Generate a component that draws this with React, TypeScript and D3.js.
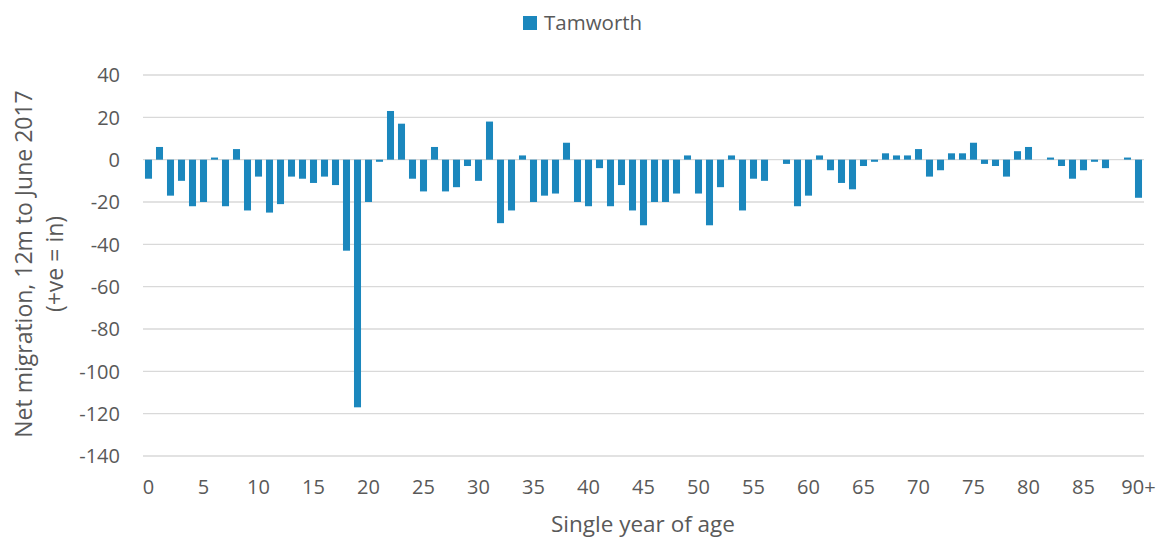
import React from 'react';
import * as d3 from 'd3';

// Tamworth net migration by single year of age
const ages: string[] = [...d3.range(0, 90).map(String), '90+'];
const netMigration: number[] = [
  -9, 6, -17, -10, -22, -20, 1, -22, 5, -24,
  -8, -25, -21, -8, -9, -11, -8, -12, -43, -117,
  -20, -1, 23, 17, -9, -15, 6, -15, -13, -3,
  -10, 18, -30, -24, 2, -20, -17, -16, 8, -20,
  -22, -4, -22, -12, -24, -31, -20, -20, -16, 2,
  -16, -31, -13, 2, -24, -9, -10, 0, -2, -22,
  -17, 2, -5, -11, -14, -3, -1, 3, 2, 2,
  5, -8, -5, 3, 3, 8, -2, -3, -8, 4,
  6, 0, 1, -3, -9, -5, -1, -4, 0, 1,
  -18,
];
const yTicks: number[] = [40, 20, 0, -20, -40, -60, -80, -100, -120, -140];
const xTickLabels: string[] = ['0', '5', '10', '15', '20', '25', '30', '35', '40', '45', '50', '55', '60', '65', '70', '75', '80', '85', '90+'];

const W = 1162;
const H = 538;
const left = 143;
const right = 1144;
const top = 75;
const bottom = 456;
const font = '"Open Sans", sans-serif';
const textColor = '#595959';
const barColor = '#1B87BD';

export default function App() {
  const x = d3.scaleBand<string>().domain(ages).range([left, right]).paddingInner(0.36).paddingOuter(0.18);
  const y = d3.scaleLinear().domain([-140, 40]).range([bottom, top]);

  return (
    <svg width={W} height={H} style={{ position: 'absolute', left: 0, top: 0, background: '#fff' }}>
      {/* legend */}
      <rect x={523} y={16} width={14} height={14} fill={barColor} />
      <text x={544} y={30} fontFamily={font} fontSize={20.5} fill={textColor}>Tamworth</text>

      {/* gridlines */}
      {yTicks.map(t => (
        <line key={t} x1={left} x2={right} y1={y(t)} y2={y(t)} stroke="#D9D9D9" strokeWidth={1.3} />
      ))}

      {/* y tick labels */}
      {yTicks.map(t => (
        <text key={'l' + t} x={120} y={y(t)} dy="0.36em" textAnchor="end" fontFamily={font} fontSize={20} fill={textColor}>
          {t}
        </text>
      ))}

      {/* bars */}
      {netMigration.map((v, i) => (
        <rect
          key={i}
          x={x(ages[i])}
          width={x.bandwidth()}
          y={y(Math.max(0, v))}
          height={Math.abs(y(v) - y(0))}
          fill={barColor}
        />
      ))}

      {/* x tick labels */}
      {xTickLabels.map(l => (
        <text key={l} x={(x(l) ?? 0) + x.bandwidth() / 2} y={494} textAnchor="middle" fontFamily={font} fontSize={20} fill={textColor}>
          {l}
        </text>
      ))}

      {/* axis titles */}
      <text x={643} y={531.5} textAnchor="middle" fontFamily={font} fontSize={22.5} fill={textColor}>Single year of age</text>
      <text transform="translate(31.5,264) rotate(-90)" textAnchor="middle" fontFamily={font} fontSize={23} fill={textColor}>
        Net migration, 12m to June 2017
      </text>
      <text transform="translate(63,264) rotate(-90)" textAnchor="middle" fontFamily={font} fontSize={23} fill={textColor}>
        (+ve = in)
      </text>
    </svg>
  );
}
